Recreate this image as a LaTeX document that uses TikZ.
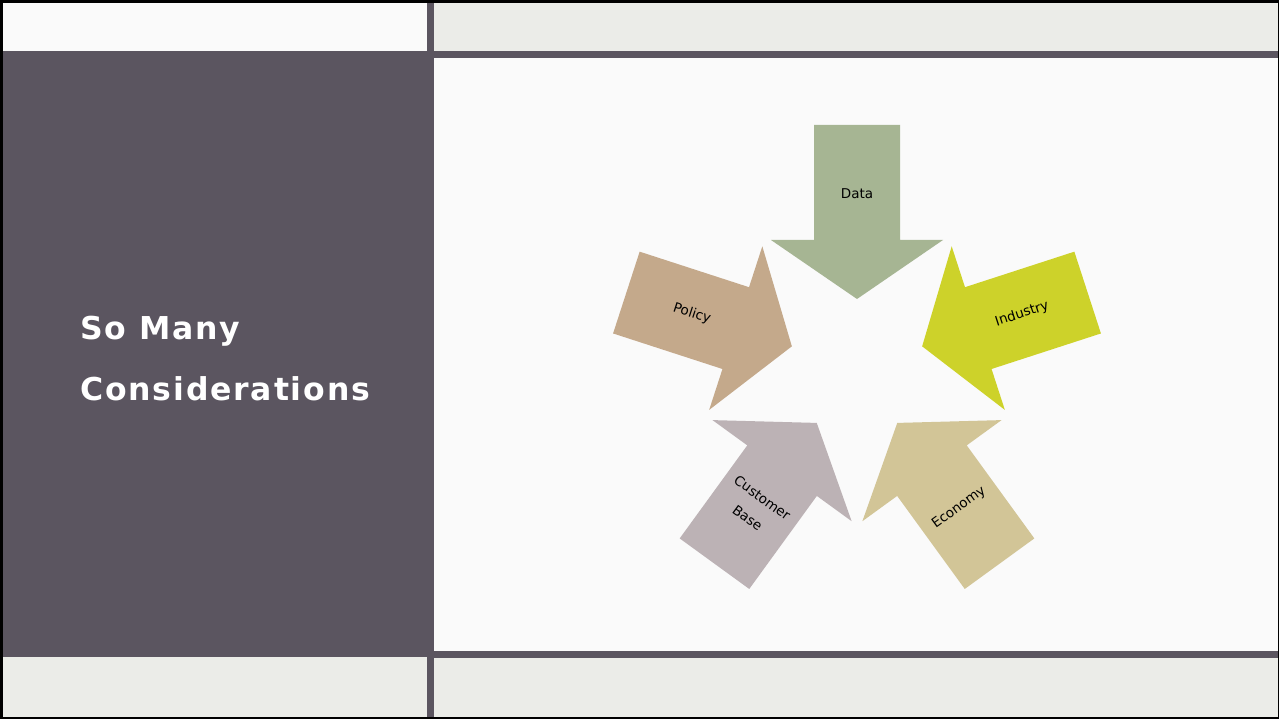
\documentclass[tikz,border=0pt]{standalone}
\usepackage{fontspec}
\setmainfont{DejaVu Sans}
\newfontfamily\titlefont[LetterSpace=5.8]{DejaVu Sans Bold}

\definecolor{panel}{HTML}{5B5560}
\definecolor{paper}{HTML}{FAFAFA}
\definecolor{band}{HTML}{EBECE8}
\definecolor{cData}{HTML}{A6B593}
\definecolor{cIndustry}{HTML}{CDD22A}
\definecolor{cPolicy}{HTML}{C4A98B}
\definecolor{cCustomer}{HTML}{BCB2B5}
\definecolor{cEconomy}{HTML}{D2C597}

\tikzset{
  lbl/.style={inner sep=0pt, text=black, font=\fontsize{13.5}{25}\selectfont, align=center},
  title/.style={anchor=base west, inner sep=0pt, text=white, font=\titlefont\fontsize{31.5}{31.5}\selectfont}
}

% one inward-pointing block arrow, drawn above the centre and pointing down
\newcommand{\inarrowpath}{(-43,242.5) -- (43,242.5) -- (43,127.5) -- (86,127.5) -- (0,68.5) -- (-86,127.5) -- (-43,127.5) -- cycle}

\begin{document}
\begin{tikzpicture}[x=1pt,y=-1pt]
  \useasboundingbox (0,0) rectangle (1279,719);

  % frame and panels
  \fill[black] (0,0) rectangle (1279,719);
  \fill[paper] (3,3) rectangle (427,51);
  \fill[panel] (3,51) rectangle (427,657);
  \fill[band] (3,657) rectangle (427,717);
  \fill[panel] (427,3) rectangle (434,717);
  \fill[band] (434,3) rectangle (1277.5,51);
  \fill[panel] (434,51) rectangle (1277.5,58);
  \fill[paper] (434,58) rectangle (1277.5,651);
  \fill[panel] (434,651) rectangle (1277.5,658);
  \fill[band] (434,658) rectangle (1277.5,717);

  % title
  \node[title] (title1) at (80,339) {So Many};
  \node[title] (title2) at (80,400) {Considerations};

  % five arrows around a common centre
  \begin{scope}[shift={(857,367.5)}, y=1pt]
    \fill[cData] \inarrowpath;
    \fill[cPolicy, rotate=72] \inarrowpath;
    \fill[cCustomer, rotate=144] \inarrowpath;
    \fill[cEconomy, rotate=216] \inarrowpath;
    \fill[cIndustry, rotate=288] \inarrowpath;

    \node[lbl] (data) at (90:173.5) {Data};
    \node[lbl, rotate=-18] (policy) at (162:173.5) {Policy};
    \node[lbl, rotate=-36] (customer) at (234:173.5) {Customer\\Base};
    \node[lbl, rotate=36] (economy) at (306:173.5) {Economy};
    \node[lbl, rotate=18] (industry) at (18:173.5) {Industry};
  \end{scope}
\end{tikzpicture}
\end{document}
